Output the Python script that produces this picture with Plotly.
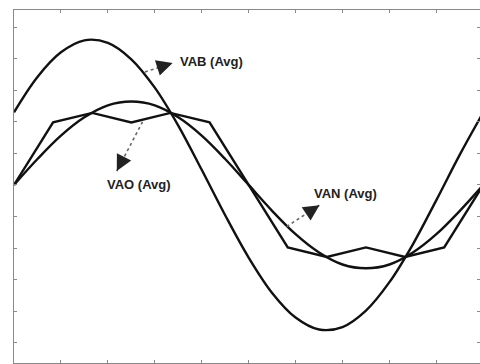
import plotly.graph_objects as go

# Time axis (one fundamental cycle = 10 units)
t_smooth = [0, 0.5, 1, 1.5, 2, 2.5, 3, 3.5, 4, 4.5, 5, 5.5, 6, 6.5, 7, 7.5, 8, 8.5, 9, 9.5, 10]
vab_avg = [115, 171, 210, 229, 225, 199, 154, 94, 24, -48, -115, -171, -210, -229, -225, -199, -154, -94, -24, 48, 115]
van_avg = [0, 41, 78, 107, 126, 132, 126, 107, 78, 41, 0, -41, -78, -107, -126, -132, -126, -107, -78, -41, 0]

t_step = [0, 0.8333, 1.6667, 2.5, 3.3333, 4.1667, 5, 5.8333, 6.6667, 7.5, 8.3333, 9.1667, 10]
vao_avg = [0, 99, 114, 99, 114, 99, 0, -99, -114, -99, -114, -99, 0]

x_ticks = [1, 2, 3, 4, 5, 6, 7, 8, 9]
y_ticks = [-250, -200, -150, -100, -50, 0, 50, 100, 150, 200, 250]

labels = ["VAB (Avg)", "VAO (Avg)", "VAN (Avg)"]

line_style = dict(color="#111111", width=2.4)

fig = go.Figure()
fig.add_trace(go.Scatter(x=t_smooth, y=vab_avg, mode="lines", line=dict(shape="spline", **line_style), name=labels[0]))
fig.add_trace(go.Scatter(x=t_smooth, y=van_avg, mode="lines", line=dict(shape="spline", **line_style), name=labels[2]))
fig.add_trace(go.Scatter(x=t_step, y=vao_avg, mode="lines", line=dict(shape="linear", **line_style), name=labels[1]))

# callouts: (tail, head, text position, head pixel offset back toward tail)
callouts = [
    dict(tail=(2.79, 179), head=(3.38, 193), txt=(3.49, 196), anchor="left", off=(-5.7, 1.8), text=labels[0]),
    dict(tail=(2.74, 100), head=(2.19, 22), txt=(2.66, 0), anchor="center", off=(2.8, -5.5), text=labels[1]),
    dict(tail=(5.81, -66), head=(6.51, -32), txt=(6.36, -14), anchor="left", off=(-5.0, 3.3), text=labels[2]),
]
for c in callouts:
    fig.add_shape(type="line", x0=c["tail"][0], y0=c["tail"][1], x1=c["head"][0], y1=c["head"][1],
                  xref="x", yref="y", line=dict(color="#666666", width=1.6, dash="3px,3px"))
    fig.add_annotation(x=c["head"][0], y=c["head"][1], ax=c["off"][0], ay=c["off"][1], text="",
                       showarrow=True, arrowhead=2, arrowsize=2.0, arrowwidth=1.6, arrowcolor="#222222",
                       standoff=0)
    fig.add_annotation(x=c["txt"][0], y=c["txt"][1], text="<b>%s</b>" % c["text"], showarrow=False,
                       xanchor=c["anchor"], yanchor="middle",
                       font=dict(family="Liberation Sans, Arial, sans-serif", size=13, color="#222222"))

axis_common = dict(showline=True, linecolor="#8a8a8a", linewidth=1.2, mirror="ticks",
                   ticks="inside", ticklen=3, tickcolor="#8a8a8a", tickwidth=1.2,
                   showticklabels=False, showgrid=False, zeroline=False)

fig.update_xaxes(range=[0, 9.93], tickvals=x_ticks, **axis_common)
fig.update_yaxes(range=[-282, 277], tickvals=y_ticks, **axis_common)

fig.update_layout(width=480, height=364, margin=dict(l=14, r=0, t=10, b=1),
                  paper_bgcolor="white", plot_bgcolor="white", showlegend=False)

fig.write_html("out.html")
